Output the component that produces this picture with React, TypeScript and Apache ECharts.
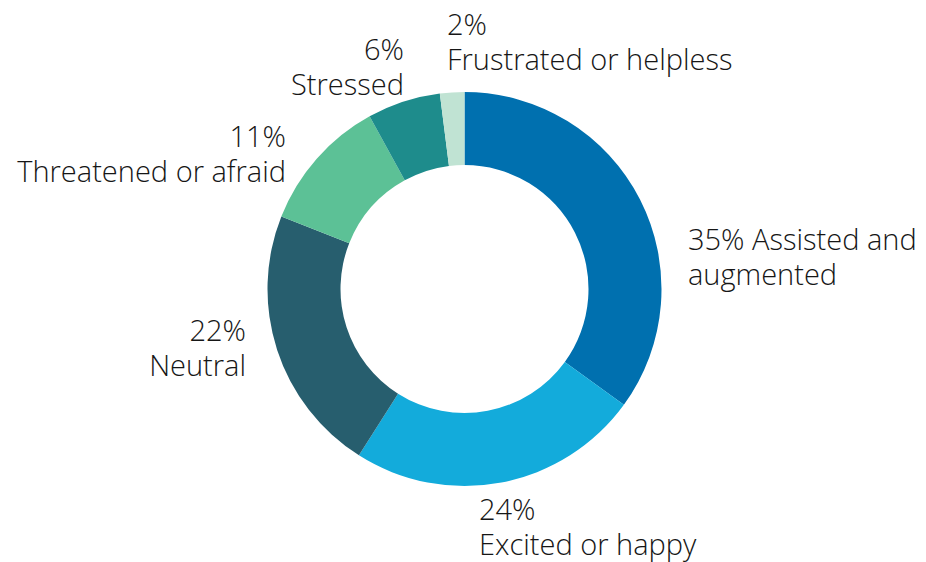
import React, { useEffect, useRef } from "react";
import * as echarts from "echarts";

const categories = [
  "Assisted and augmented",
  "Excited or happy",
  "Neutral",
  "Threatened or afraid",
  "Stressed",
  "Frustrated or helpless",
];
const values = [35, 24, 22, 11, 6, 2];
const colors = ["#0070AF", "#13ABDB", "#275E6E", "#5CC196", "#1E8C8C", "#C0E3D3"];

// label anchor placement (x, y, align) per slice
const labelPos: [number, number, string][] = [
  [688, 256, "left"],
  [479, 526, "left"],
  [246, 346.5, "right"],
  [286, 153, "right"],
  [404, 66, "right"],
  [447, 41, "left"],
];

export default function App() {
  const ref = useRef<HTMLDivElement>(null);
  useEffect(() => {
    if (!ref.current) return;
    const chart = echarts.init(ref.current, null, { renderer: "svg" });
    chart.setOption({
      animation: false,
      backgroundColor: "#ffffff",
      series: [
        {
          type: "pie",
          center: [464.5, 289],
          radius: [124, 197],
          startAngle: 90,
          clockwise: true,
          avoidLabelOverlap: false,
          itemStyle: { borderWidth: 0 },
          labelLine: { show: false },
          label: {
            show: true,
            position: "outside",
            color: "#161616",
            fontFamily: "'Open Sans', sans-serif",
            fontWeight: 300,
            fontSize: 29,
            lineHeight: 35,
            formatter: (p: any) =>
              p.dataIndex === 0
                ? `${p.value}% ${p.name.replace(" augmented", "\naugmented")}`
                : `${p.value}%\n${p.name}`,
          },
          labelLayout: (params: any) => {
            const [x, y, align] = labelPos[params.dataIndex];
            return { x, y, align, verticalAlign: "middle" };
          },
          emphasis: { disabled: true },
          data: categories.map((name, i) => ({
            name,
            value: values[i],
            itemStyle: { color: colors[i] },
            label:
              labelPos[i][2] === "right"
                ? { align: "right" }
                : { align: "left" },
          })),
        },
      ],
    });
    return () => chart.dispose();
  }, []);
  return (
    <div
      ref={ref}
      style={{ position: "fixed", left: 0, top: 0, width: 926, height: 562 }}
    />
  );
}
